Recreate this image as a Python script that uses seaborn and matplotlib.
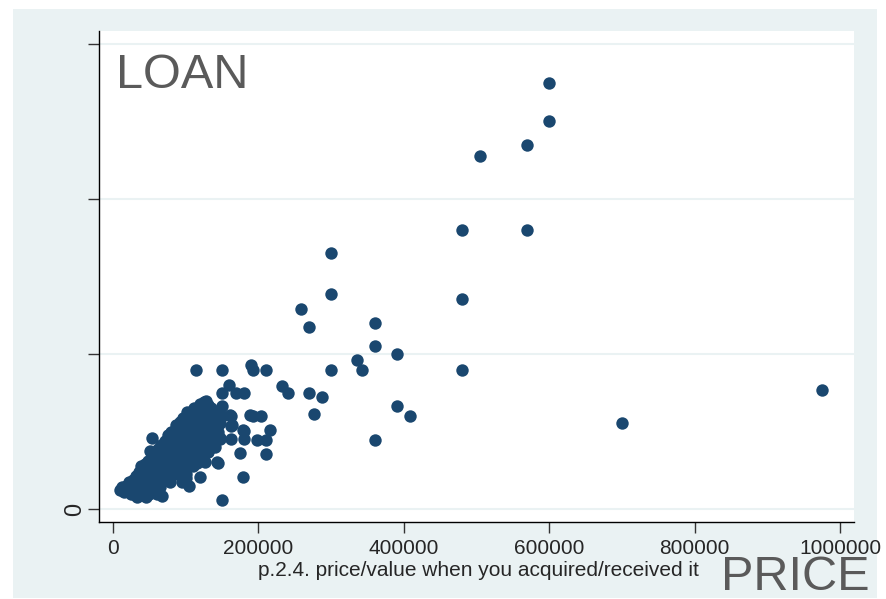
import matplotlib
matplotlib.use("Agg")
import matplotlib.pyplot as plt
from matplotlib.patches import Rectangle
import seaborn as sns
import pandas as pd

# purchase price / value and loan amount for each property
price = [
    600000, 600000, 570000, 505000, 480000, 570000, 300000, 300000, 480000, 258000,
    270000, 360000, 360000, 335000, 342000, 390000, 480000, 300000, 210000, 190000,
    193000, 150000, 114000, 232000, 241000, 270000, 287000, 276000, 390000, 408000,
    360000, 700000, 975000, 150000, 193000, 204000, 216000, 198000, 210000, 210000,
    179000, 160000, 150000, 169000, 180000, 131000, 150000, 162000, 162000, 180000,
    180000, 162000, 147000, 175000, 120000, 105000, 144000,
    10000, 12000, 15000, 18000, 20000, 22000, 25000, 25000, 28000, 30000,
    30000, 32000, 35000, 35000, 38000, 40000, 40000, 40000, 42000, 45000,
    45000, 48000, 50000, 50000, 50000, 52000, 55000, 55000, 58000, 60000,
    60000, 60000, 62000, 65000, 65000, 68000, 70000, 70000, 70000, 72000,
    75000, 75000, 78000, 80000, 80000, 80000, 82000, 85000, 85000, 88000,
    90000, 90000, 90000, 92000, 95000, 95000, 98000, 100000, 100000, 100000,
    100000, 102000, 105000, 105000, 108000, 110000, 110000, 112000, 115000, 115000,
    118000, 120000, 120000, 120000, 125000, 125000, 128000, 130000, 130000, 135000,
    140000, 140000, 145000, 150000, 45000, 65000, 60000, 130000, 115000, 100000,
    85000, 110000, 120000, 135000, 140000, 54000, 51000, 33000, 67000, 110000,
    137000, 144000, 124000, 131000, 143000, 188000, 179000,
    95000, 100000, 105000, 110000, 110000, 115000, 120000, 125000, 125000, 130000,
    135000, 135000, 140000, 145000, 128000, 118000, 105000, 95000, 90000, 88000,
    80000, 75000, 70000, 65000, 60000, 55000, 50000, 45000, 40000, 35000,
    30000, 78000, 95000, 100000, 108000, 112000, 117000, 125000, 127000, 102000,
    96000, 92000, 86000, 80000, 75000, 72000, 66000, 62000, 58000, 54000,
    48000, 44000, 38000, 36000, 131000, 127000, 147000, 161000, 164000, 131000,
    147000, 122000, 127000,
]
loan = [
    550000, 500000, 470000, 455000, 360000, 360000, 330000, 278000, 271000, 258000,
    235000, 240000, 210000, 192000, 180000, 200000, 180000, 180000, 180000, 186000,
    180000, 180000, 180000, 159000, 150000, 150000, 145000, 123000, 133000, 120000,
    89000, 111000, 154000, 12000, 120000, 120000, 102000, 89000, 89000, 71000,
    41000, 160000, 150000, 150000, 150000, 133000, 133000, 120000, 107000, 101000,
    90000, 90000, 90000, 72000, 41000, 30000, 59000,
    25000, 28000, 22000, 30000, 26000, 35000, 20000, 30000, 38000, 32000,
    25000, 42000, 35000, 28000, 45000, 38000, 30000, 50000, 20000, 42000,
    55000, 35000, 45000, 60000, 30000, 50000, 40000, 65000, 55000, 48000,
    70000, 35000, 60000, 52000, 75000, 45000, 62000, 80000, 55000, 70000,
    85000, 60000, 50000, 75000, 90000, 65000, 100000, 80000, 70000, 95000,
    85000, 105000, 75000, 60000, 100000, 90000, 110000, 95000, 80000, 115000,
    105000, 70000, 120000, 100000, 90000, 125000, 110000, 130000, 105000, 95000,
    120000, 135000, 115000, 100000, 125000, 110000, 140000, 120000, 100000, 130000,
    125000, 110000, 115000, 120000, 15000, 28000, 20000, 75000, 60000, 55000,
    45000, 85000, 85000, 95000, 95000, 92000, 75000, 15000, 17000, 126000,
    123000, 108000, 63000, 74000, 61000, 121000, 102000,
    50000, 40000, 65000, 55000, 70000, 80000, 70000, 95000, 80000, 90000,
    110000, 85000, 80000, 100000, 105000, 110000, 85000, 70000, 65000, 55000,
    55000, 45000, 40000, 40000, 25000, 30000, 20000, 25000, 18000, 20000,
    18000, 35000, 35000, 45000, 75000, 120000, 128000, 138000, 118000, 125000,
    118000, 112000, 108000, 100000, 95000, 88000, 82000, 78000, 72000, 68000,
    62000, 58000, 55000, 48000, 134000, 121000, 111000, 121000, 108000, 95000,
    92000, 72000, 61000,
]
x_ticks = [0, 200000, 400000, 600000, 800000, 1000000]
x_tick_labels = ["0", "200000", "400000", "600000", "800000", "1000000"]
y_ticks = [0, 200000, 400000, 600000]
y_tick_labels = ["0", "", "", ""]

df = pd.DataFrame({"price": price, "loan": loan})

sns.set_style("white")
plt.rcParams["font.family"] = ["Liberation Sans", "DejaVu Sans"]

W, H = 887, 599
fig = plt.figure(figsize=(W / 100, H / 100), dpi=100)
fig.patch.set_facecolor("white")

# light bluish graph region behind the plot area
fig.patches.append(Rectangle((13 / W, 1 - 598 / H), (877 - 13) / W, (598 - 9) / H,
                             transform=fig.transFigure, facecolor="#EAF2F3",
                             edgecolor="none", zorder=-10))

ax = fig.add_axes([99 / W, 1 - 522 / H, (854 - 99) / W, (522 - 31) / H])
ax.set_zorder(1)
ax.set_facecolor("white")

sns.scatterplot(data=df, x="price", y="loan", ax=ax, color="#1A476F",
                s=80, linewidth=0, alpha=1, zorder=3)

ax.set_xlim(-19257, 1019245)
ax.set_ylim(-16774, 616774)

ax.set_xticks(x_ticks)
ax.set_xticklabels(x_tick_labels, fontsize=15)
ax.set_yticks(y_ticks)
ax.set_yticklabels(y_tick_labels, fontsize=17, rotation=90, va="center")
ax.tick_params(axis="x", direction="out", length=8, width=1, color="#333333", pad=4)
ax.tick_params(axis="y", direction="out", length=8, width=1, color="#333333", pad=1)
ax.tick_params(left=True, bottom=True)

ax.yaxis.grid(True, color="#EAF2F3", linewidth=1.5, zorder=0)
ax.xaxis.grid(False)
ax.set_axisbelow(True)

for side in ("top", "right"):
    ax.spines[side].set_visible(False)
for side in ("left", "bottom"):
    ax.spines[side].set_visible(True)
    ax.spines[side].set_color("black")
    ax.spines[side].set_linewidth(1.0)

ax.set_ylabel("")
ax.set_xlabel("p.2.4. price/value when you acquired/received it", fontsize=15,
              va="baseline")
ax.xaxis.set_label_coords((478 - 99) / 755, (522 - 576) / 491)

fig.text(116 / W, 1 - 88 / H, "LOAN", fontsize=35, color="#5a5a5a",
         ha="left", va="baseline", zorder=5)
fig.text(721 / W, 1 - 590 / H, "PRICE", fontsize=35, color="#5a5a5a",
         ha="left", va="baseline", zorder=5)

fig.savefig("out.png", dpi=100, facecolor="white")
